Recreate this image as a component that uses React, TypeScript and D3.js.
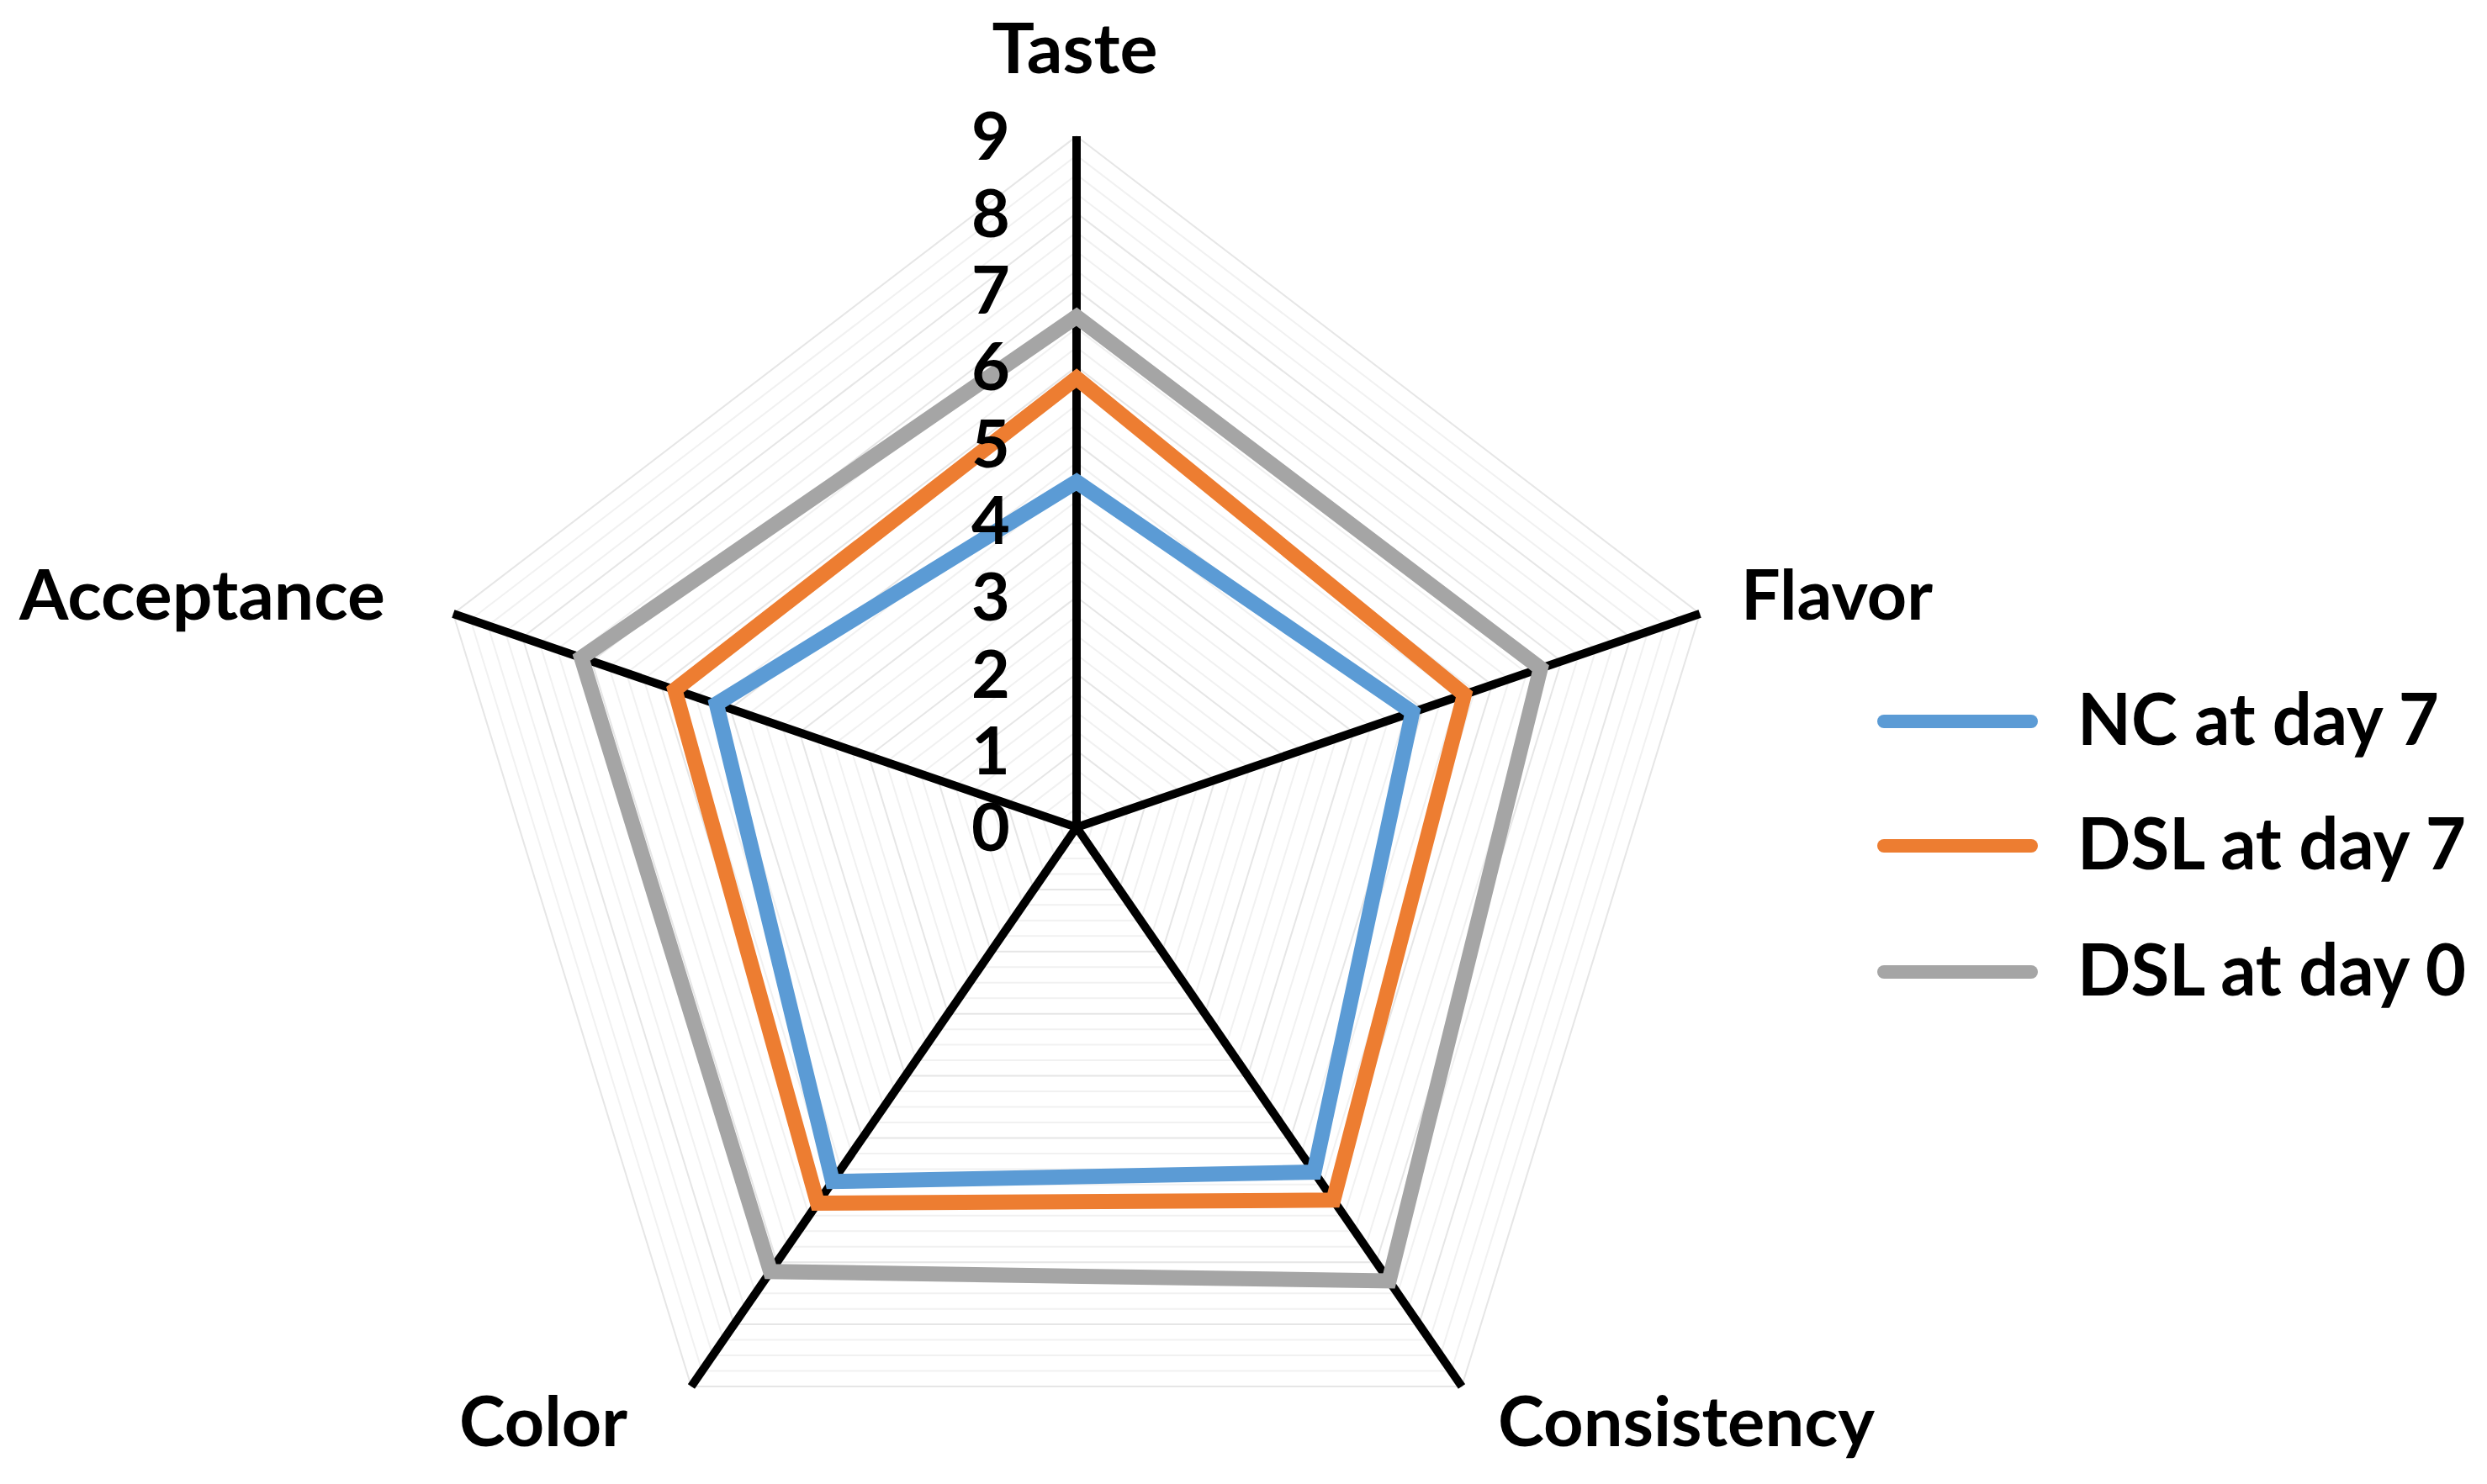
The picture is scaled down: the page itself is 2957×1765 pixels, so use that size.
import React, { useEffect } from "react";
import * as d3 from "d3";

const axes = ["Taste", "Flavor", "Consistency", "Color", "Acceptance"];
const ncDay7 = [4.5, 4.85, 5.55, 5.7, 5.2];
const dslDay7 = [5.85, 5.6, 6.0, 6.05, 5.8];
const dslDay0 = [6.65, 6.7, 7.3, 7.15, 7.15];
const tickLabels = [0, 1, 2, 3, 4, 5, 6, 7, 8, 9];
const seriesNames = ["NC at day 7", "DSL at day 7", "DSL at day 0"];
const seriesColors = ["#5B9BD5", "#ED7D31", "#A5A5A5"];

const W = 2957;
const H = 1765;
const cx = 1280;
const cy = 984;
const R = 822;
const kx = 0.948;
const FONT = "Lato, 'Open Sans', sans-serif";

// label layout: [x, y, anchor, textLength]
const labelLayout: [number, number, string, number][] = [
  [1278, 87, "middle", 197],
  [2070, 737, "start", 228],
  [1781, 1720, "start", 448],
  [546, 1720, "start", 200],
  [23, 737, "start", 435],
];

export default function App() {
  useEffect(() => {
    document.body.style.margin = "0";
  }, []);

  const r = d3.scaleLinear().domain([0, 9]).range([0, R]);
  const angle = d3
    .scaleLinear()
    .domain([0, axes.length])
    .range([0, 2 * Math.PI]);
  const px = (i: number, v: number) => cx + kx * r(v) * Math.sin(angle(i));
  const py = (i: number, v: number) => cy - r(v) * Math.cos(angle(i));

  const line = d3
    .line<number>()
    .x((v, i) => px(i, v))
    .y((v, i) => py(i, v))
    .curve(d3.curveLinearClosed);

  const gridSteps = d3.range(0.25, 9.001, 0.25);
  const series = [ncDay7, dslDay7, dslDay0];

  const legendY = [858, 1006, 1156];

  return (
    <svg
      width={W}
      height={H}
      viewBox={`0 0 ${W} ${H}`}
      style={{ display: "block", background: "#fff" }}
    >
      <rect x={0} y={0} width={W} height={H} fill="#fff" />
      {/* faint grid */}
      <g fill="none">
        {gridSteps.map((s) => (
          <path
            key={s}
            d={line(axes.map(() => s)) || ""}
            stroke={Number.isInteger(s) ? "#e6e6e6" : "#f1f1f1"}
            strokeWidth={2}
          />
        ))}
      </g>
      {/* axes */}
      <g>
        {axes.map((a, i) => (
          <line
            key={a}
            x1={cx}
            y1={cy}
            x2={px(i, 9)}
            y2={py(i, 9)}
            stroke="#000"
            strokeWidth={10}
          />
        ))}
      </g>
      {/* series */}
      <g fill="none">
        {series.map((vals, si) => (
          <path
            key={si}
            d={line(vals) || ""}
            stroke={seriesColors[si]}
            strokeWidth={18}
            strokeLinejoin="miter"
          />
        ))}
      </g>
      {/* tick labels */}
      <g
        fontFamily={FONT}
        fontWeight={700}
        fontSize={79}
        textAnchor="middle"
        fill="#000"
      >
        {tickLabels.map((t) => (
          <text key={t} x={1178} y={cy - r(t)} dy="0.36em">
            {t}
          </text>
        ))}
      </g>
      {/* axis labels */}
      <g fontFamily={FONT} fontWeight={700} fontSize={82} fill="#000">
        {axes.map((a, i) => (
          <text
            key={a}
            x={labelLayout[i][0]}
            y={labelLayout[i][1]}
            textAnchor={labelLayout[i][2] as any}
            textLength={labelLayout[i][3]}
            lengthAdjust="spacingAndGlyphs"
          >
            {a}
          </text>
        ))}
      </g>
      {/* legend */}
      <g fontFamily={FONT} fontWeight={700} fontSize={86} fill="#000">
        {seriesNames.map((n, i) => (
          <g key={n}>
            <line
              x1={2240}
              x2={2415}
              y1={legendY[i]}
              y2={legendY[i]}
              stroke={seriesColors[i]}
              strokeWidth={16}
              strokeLinecap="round"
            />
            <text
              x={2470}
              y={legendY[i] + 28}
              textLength={i === 0 ? 430 : 462}
              lengthAdjust="spacingAndGlyphs"
            >
              {n}
            </text>
          </g>
        ))}
      </g>
    </svg>
  );
}
